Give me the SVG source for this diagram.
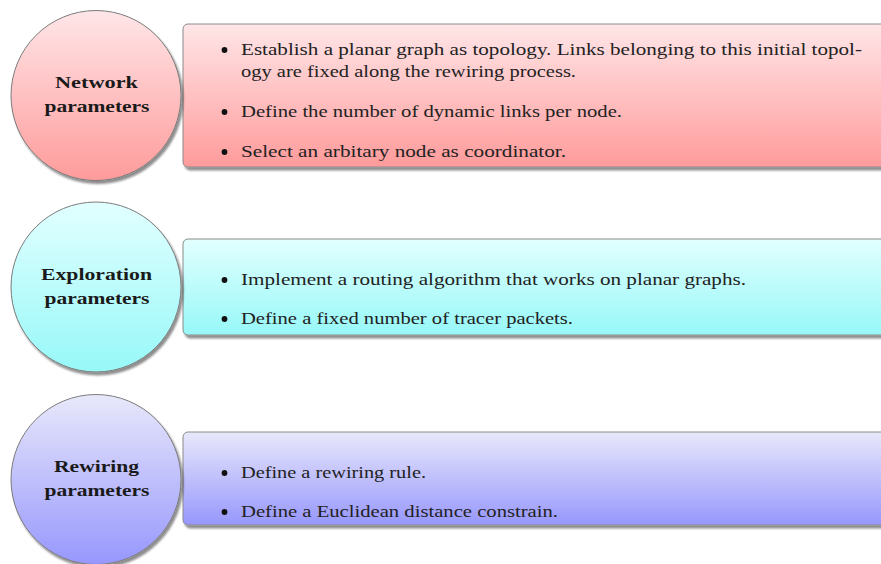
<svg xmlns="http://www.w3.org/2000/svg" width="881" height="564" viewBox="0 0 881 564">
<style>
.box{stroke:#8a8a8a;stroke-width:1;filter:url(#sh)}
.circ{stroke:#7a7a7a;stroke-width:1;filter:url(#sh)}
.lbl{font-family:"Liberation Serif","DejaVu Serif",serif;font-weight:bold;font-size:17.5px;fill:#1a1a1a;text-anchor:middle}
.txt{font-family:"Liberation Serif","DejaVu Serif",serif;font-size:17.5px;fill:#222}
.bul{fill:#111}
</style>
<defs>
<filter id="sh" x="-10%" y="-10%" width="125%" height="130%">
<feGaussianBlur in="SourceAlpha" stdDeviation="1.3" result="b"/>
<feOffset dx="2" dy="3" result="o"/>
<feComponentTransfer in="o" result="s"><feFuncA type="linear" slope="0.45"/></feComponentTransfer>
<feMerge><feMergeNode in="s"/><feMergeNode in="SourceGraphic"/></feMerge>
</filter>
<linearGradient id="gR" x1="0" y1="0" x2="0" y2="1"><stop offset="0" stop-color="#ffe6e8"/><stop offset="1" stop-color="#ff9b9b"/></linearGradient>
<linearGradient id="gC" x1="0" y1="0" x2="0" y2="1"><stop offset="0" stop-color="#e2ffff"/><stop offset="1" stop-color="#97f8f8"/></linearGradient>
<linearGradient id="gB" x1="0" y1="0" x2="0" y2="1"><stop offset="0" stop-color="#e8e8fb"/><stop offset="1" stop-color="#9797fd"/></linearGradient>
</defs>
<rect width="881" height="564" fill="#ffffff"/>

<g id="network-box">
<rect class="box" x="183" y="24" width="710" height="143" rx="5" fill="url(#gR)"/>
<circle class="bul" cx="224.5" cy="50" r="2.9"/>
<text class="txt" x="241" y="55" textLength="621" lengthAdjust="spacingAndGlyphs">Establish a planar graph as topology. Links belonging to this initial topol-</text>
<text class="txt" x="241" y="77" textLength="335" lengthAdjust="spacingAndGlyphs">ogy are fixed along the rewiring process.</text>
<circle class="bul" cx="224.5" cy="112" r="2.9"/>
<text class="txt" x="241" y="117" textLength="381" lengthAdjust="spacingAndGlyphs">Define the number of dynamic links per node.</text>
<circle class="bul" cx="224.5" cy="152" r="2.9"/>
<text class="txt" x="241" y="157" textLength="325" lengthAdjust="spacingAndGlyphs">Select an arbitary node as coordinator.</text>
</g>
<g id="network">
<circle class="circ" cx="96" cy="95.5" r="85" fill="url(#gR)"/>
<text class="lbl" x="96.5" y="88" textLength="83" lengthAdjust="spacingAndGlyphs">Network</text>
<text class="lbl" x="97" y="112" textLength="105" lengthAdjust="spacingAndGlyphs">parameters</text>
</g>

<g id="exploration-box">
<rect class="box" x="183" y="239" width="710" height="96" rx="5" fill="url(#gC)"/>
<circle class="bul" cx="224.5" cy="280" r="2.9"/>
<text class="txt" x="241" y="285" textLength="505" lengthAdjust="spacingAndGlyphs">Implement a routing algorithm that works on planar graphs.</text>
<circle class="bul" cx="224.5" cy="319" r="2.9"/>
<text class="txt" x="241" y="324" textLength="332" lengthAdjust="spacingAndGlyphs">Define a fixed number of tracer packets.</text>
</g>
<g id="exploration">
<circle class="circ" cx="96" cy="287" r="85" fill="url(#gC)"/>
<text class="lbl" x="96.5" y="280" textLength="111" lengthAdjust="spacingAndGlyphs">Exploration</text>
<text class="lbl" x="97" y="304" textLength="105" lengthAdjust="spacingAndGlyphs">parameters</text>
</g>

<g id="rewiring-box">
<rect class="box" x="183" y="432" width="710" height="93" rx="5" fill="url(#gB)"/>
<circle class="bul" cx="224.5" cy="473" r="2.9"/>
<text class="txt" x="241" y="478" textLength="185" lengthAdjust="spacingAndGlyphs">Define a rewiring rule.</text>
<circle class="bul" cx="224.5" cy="512" r="2.9"/>
<text class="txt" x="241" y="517" textLength="317" lengthAdjust="spacingAndGlyphs">Define a Euclidean distance constrain.</text>
</g>
<g id="rewiring">
<circle class="circ" cx="96" cy="479.5" r="85" fill="url(#gB)"/>
<text class="lbl" x="96.5" y="472" textLength="85" lengthAdjust="spacingAndGlyphs">Rewiring</text>
<text class="lbl" x="97" y="496" textLength="105" lengthAdjust="spacingAndGlyphs">parameters</text>
</g>

<g id="connectors"></g>
</svg>
